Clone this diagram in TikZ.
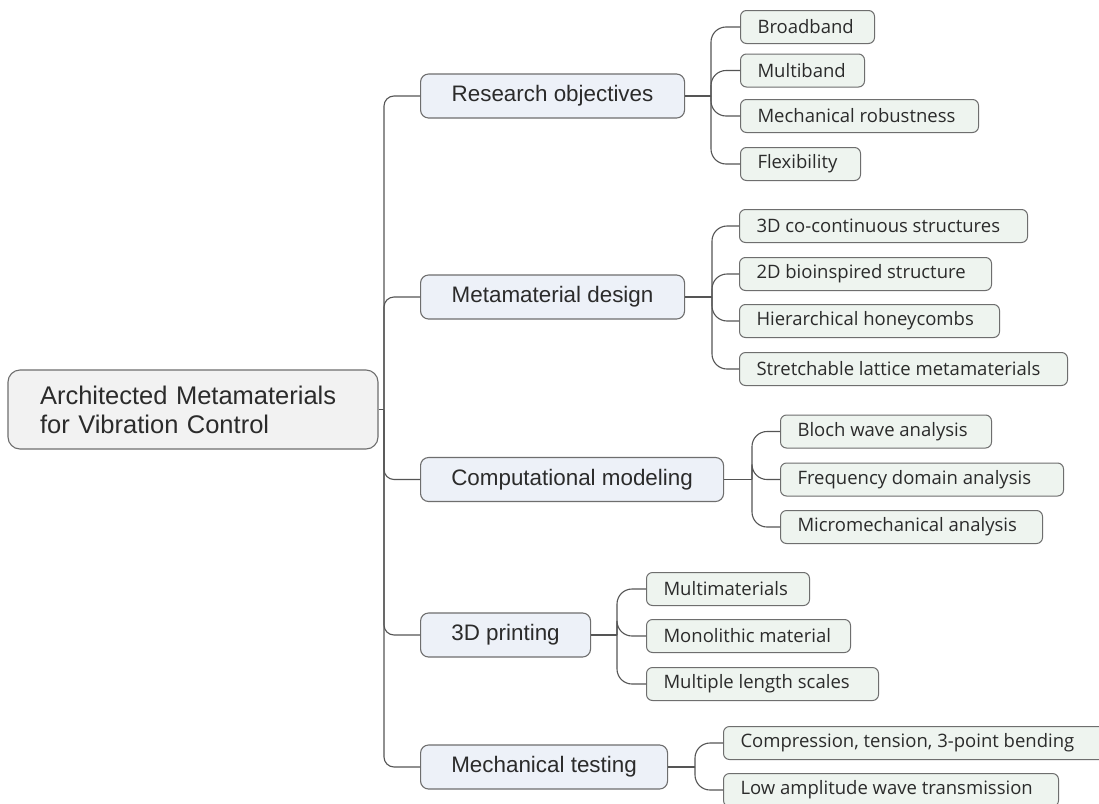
\documentclass[tikz,border=0pt]{standalone}
\usepackage{fontspec}
\setmainfont{Liberation Sans}
\newfontfamily\leaffont{Open Sans}
\definecolor{bordc}{HTML}{6E6E6E}
\definecolor{linec}{HTML}{555555}
\definecolor{rootf}{HTML}{F2F2F2}
\definecolor{lonef}{HTML}{EDF1F8}
\definecolor{leaff}{HTML}{EEF4EF}
\definecolor{txt}{HTML}{2B2B2B}
\newcommand\lft[2]{\makebox[#1][l]{#2}}
\begin{document}
\begin{tikzpicture}[x=1pt,y=-1pt,
  rootbox/.style={draw=bordc, fill=rootf, rounded corners=12pt, line width=1.1pt,
    text width=306pt, inner xsep=32pt, inner ysep=0pt, minimum height=79pt, align=left,
    font=\fontsize{25.5}{29}\selectfont, text=txt},
  lone/.style={draw=bordc, fill=lonef, rounded corners=8pt, line width=1.1pt,
    minimum height=44pt, anchor=west, inner sep=0pt,
    font=\fontsize{22.4}{26}\selectfont, text=txt},
  leaf/.style={draw=bordc, fill=leaff, rounded corners=6pt, line width=1pt,
    minimum height=33pt, anchor=west, inner ysep=0pt, inner xsep=17pt,
    font=\leaffont\fontsize{18.5}{21}\selectfont, text=txt},
  conn/.style={draw=linec, line width=1.1pt},
  trunkc/.style={conn, rounded corners=10pt},
  twig/.style={conn, rounded corners=15pt}]
\useasboundingbox (0,0) rectangle (1099,803);
\clip (0,0) rectangle (1099,803);
\fill[white] (0,0) rectangle (1099,803);

% root
\node[rootbox] (root) at (193,409.5) {Architected Metamaterials\\for Vibration Control};
\coordinate (tr) at (384,409.5);

% level 1
\node[lone, minimum width=264pt] (ro) at (420,96) {Research objectives};
\node[lone, minimum width=264pt] (md) at (420,297) {Metamaterial design};
\node[lone, minimum width=303pt] (cm) at (420,479.5) {Computational modeling};
\node[lone, minimum width=170pt] (pr) at (420,635) {3D printing};
\node[lone, minimum width=247pt] (mt) at (420,767) {Mechanical testing};

% branch points
\coordinate (bro) at (711,96);
\coordinate (bmd) at (712,297);
\coordinate (bcm) at (752,479.5);
\coordinate (bpr) at (617,635);
\coordinate (bmt) at (695,767);

% leaves: research objectives
\node[leaf] (ro1) at (740,27) {\lft{100pt}{Broadband}};
\node[leaf] (ro2) at (740,70.5) {\lft{90pt}{Multiband}};
\node[leaf] (ro3) at (740,116) {\lft{204pt}{Mechanical robustness}};
\node[leaf] (ro4) at (740,164) {\lft{86pt}{Flexibility}};
% metamaterial design
\node[leaf] (md1) at (739,226) {\lft{254pt}{3D co-continuous structures}};
\node[leaf] (md2) at (739,274) {\lft{218pt}{2D bioinspired structure}};
\node[leaf] (md3) at (739,321) {\lft{226pt}{Hierarchical honeycombs}};
\node[leaf] (md4) at (739,369) {\lft{294pt}{Stretchable lattice metamaterials}};
% computational modeling
\node[leaf] (cm1) at (780,431.5) {\lft{177pt}{Bloch wave analysis}};
\node[leaf] (cm2) at (780,479.5) {\lft{249pt}{Frequency domain analysis}};
\node[leaf] (cm3) at (780,527) {\lft{228pt}{Micromechanical analysis}};
% 3D printing
\node[leaf] (pr1) at (646,589) {\lft{129pt}{Multimaterials}};
\node[leaf] (pr2) at (646,636) {\lft{170pt}{Monolithic material}};
\node[leaf] (pr3) at (646,684) {\lft{198pt}{Multiple length scales}};
% mechanical testing
\node[leaf] (mt1) at (723,743) {\lft{348pt}{Compression, tension, 3-point bending}};
\node[leaf] (mt2) at (723,790) {\lft{301pt}{Low amplitude wave transmission}};

% connectors
\draw[conn] (root.east) -- (tr);
\foreach \n in {ro,md,cm,pr,mt}{\draw[trunkc] (tr) |- (\n.west);}
\draw[conn] (ro.east) -- (bro);
\draw[conn] (md.east) -- (bmd);
\draw[conn] (cm.east) -- (bcm);
\draw[conn] (pr.east) -- (bpr);
\draw[conn] (mt.east) -- (bmt);
\foreach \n in {ro1,ro2,ro3,ro4}{\draw[twig] (bro) |- (\n.west);}
\foreach \n in {md1,md2,md3,md4}{\draw[twig] (bmd) |- (\n.west);}
\foreach \n in {cm1,cm2,cm3}{\draw[twig] (bcm) |- (\n.west);}
\foreach \n in {pr1,pr2,pr3}{\draw[twig] (bpr) |- (\n.west);}
\foreach \n in {mt1,mt2}{\draw[twig] (bmt) |- (\n.west);}
\end{tikzpicture}
\end{document}
